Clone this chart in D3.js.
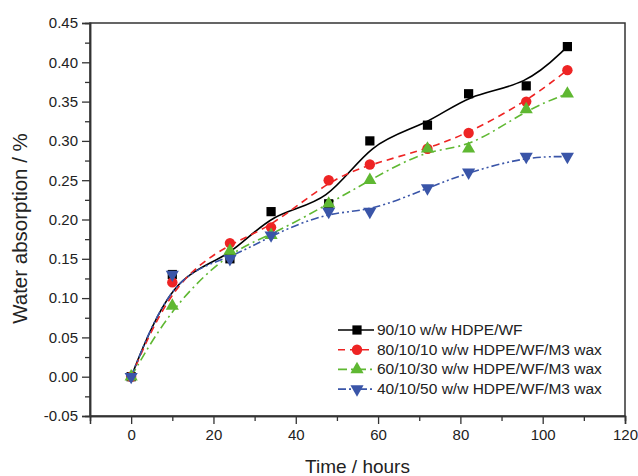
<!DOCTYPE html>
<html><head><meta charset="utf-8">
<script src="https://cdn.jsdelivr.net/npm/d3@7"></script>
<style>body{margin:0;background:#fff}svg{display:block;font-family:"Liberation Sans",Arial,sans-serif}</style>
</head><body><svg id="c" width="638" height="476"></svg>
<script>
const times = [0, 10, 24, 34, 48, 58, 72, 82, 96, 106];
const s90_10 = [0, 0.13, 0.15, 0.21, 0.22, 0.30, 0.32, 0.36, 0.37, 0.42];
const s80_10_10 = [0, 0.12, 0.17, 0.19, 0.25, 0.27, 0.29, 0.31, 0.35, 0.39];
const s60_10_30 = [0, 0.09, 0.16, 0.18, 0.22, 0.25, 0.29, 0.29, 0.34, 0.36];
const s40_10_50 = [0, 0.13, 0.15, 0.18, 0.21, 0.21, 0.24, 0.26, 0.28, 0.28];
const seriesNames = ["90/10 w/w HDPE/WF", "80/10/10 w/w HDPE/WF/M3 wax", "60/10/30 w/w HDPE/WF/M3 wax", "40/10/50 w/w HDPE/WF/M3 wax"];
const xTicks = [0, 20, 40, 60, 80, 100, 120];
const yTicks = [-0.05, 0, 0.05, 0.10, 0.15, 0.20, 0.25, 0.30, 0.35, 0.40, 0.45];

const styles = [
  {color:"#000000", dash:null, sym:d3.symbolSquare, size:85, rot:0},
  {color:"#ee2424", dash:"7,5", sym:d3.symbolCircle, size:85, rot:0},
  {color:"#5fb832", dash:"9,4,2,4", sym:d3.symbolTriangle, size:75, rot:0},
  {color:"#3a55a8", dash:"8,3,2,3,2,3", sym:d3.symbolTriangle, size:75, rot:180}
];
const allSeries = [s90_10, s80_10_10, s60_10_30, s40_10_50];

const svg = d3.select("#c");
const L = 90, R = 625, T = 23, B = 416;
const x = d3.scaleLinear().domain([-10, 120]).range([L, R]);
const y = d3.scaleLinear().domain([-0.05, 0.45]).range([B, T]);

svg.append("rect").attr("x", L).attr("y", T).attr("width", R-L).attr("height", B-T)
  .attr("fill","none").attr("stroke","#333").attr("stroke-width",1.5);

const xAxis = d3.axisBottom(x).tickValues(xTicks).tickSize(8).tickPadding(5).tickFormat(d3.format("d"));
svg.append("g").attr("transform",`translate(0,${B})`).call(xAxis);
const xMinor = d3.axisBottom(x).tickValues([10,30,50,70,90,110]).tickSize(5).tickFormat("");
svg.append("g").attr("transform",`translate(0,${B})`).call(xMinor);

const fmtY = v => d3.format(".2f")(v).replace("\u2212", "-");
const yAxis = d3.axisLeft(y).tickValues(yTicks).tickSize(8).tickPadding(4).tickFormat(fmtY);
svg.append("g").attr("transform",`translate(${L},0)`).call(yAxis);
const yMinorVals = yTicks.slice(0,-1).map(v => +(v+0.025).toFixed(3));
svg.append("g").attr("transform",`translate(${L},0)`).call(d3.axisLeft(y).tickValues(yMinorVals).tickSize(5).tickFormat(""));

svg.selectAll(".domain").attr("stroke","#333").attr("stroke-width",1.5);
svg.selectAll(".tick line").attr("stroke","#333").attr("stroke-width",1.3);
svg.selectAll(".tick text").attr("font-size",15).attr("fill","#222").attr("font-family","Liberation Sans, Arial, sans-serif");

svg.append("text").attr("x", (x(-10)+x(120))/2).attr("y", 473).attr("text-anchor","middle")
  .attr("font-size",19).attr("fill","#222").text("Time / hours");
svg.append("text").attr("transform",`translate(27,${(T+B)/2 + 9}) rotate(-90)`).attr("text-anchor","middle")
  .attr("font-size",20.5).attr("fill","#222").text("Water absorption / %");

const line = d3.line().x(d => x(d[0])).y(d => y(d[1])).curve(d3.curveBasis);
allSeries.forEach((s, i) => {
  const st = styles[i];
  const pts = times.map((t, j) => [t, s[j]]);
  svg.append("path").datum(pts).attr("d", line).attr("fill","none")
    .attr("stroke", st.color).attr("stroke-width",1.6).attr("stroke-dasharray", st.dash);
});
allSeries.forEach((s, i) => {
  const st = styles[i];
  const sym = d3.symbol().type(st.sym).size(st.size);
  svg.append("g").selectAll("path").data(times.map((t, j) => [t, s[j]])).join("path")
    .attr("d", sym).attr("fill", st.color)
    .attr("transform", d => `translate(${x(d[0])},${y(d[1])}) rotate(${st.rot})`);
});

const lg = svg.append("g");
seriesNames.forEach((name, i) => {
  const st = styles[i];
  const yy = 330 + i*19.7;
  lg.append("line").attr("x1",338).attr("x2",374).attr("y1",yy).attr("y2",yy)
    .attr("stroke",st.color).attr("stroke-width",1.6).attr("stroke-dasharray", st.dash);
  lg.append("path").attr("d", d3.symbol().type(st.sym).size(st.size)())
    .attr("fill", st.color).attr("transform",`translate(357,${yy}) rotate(${st.rot})`);
  lg.append("text").attr("x",377).attr("y",yy+5).attr("font-size",15.5).attr("fill","#222").text(name);
});
</script></body></html>
